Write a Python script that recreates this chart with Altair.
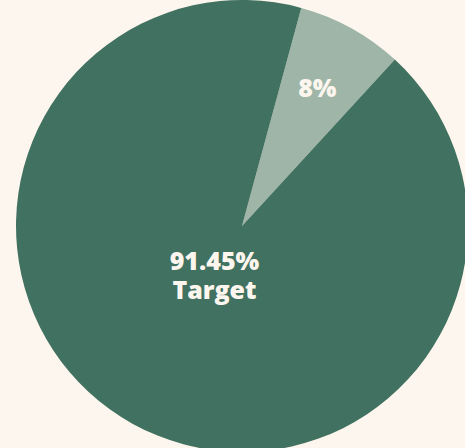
import math
import altair as alt
import pandas as pd

# data
categories = ["Other", "Target"]
shares = [7.6, 92.4]          # slice sizes
labels = ["8%", "91.45%\nTarget"]
order = [0, 1]
colors = ["#9EB5A8", "#417160"]

df = pd.DataFrame({"cat": categories, "value": shares, "label": labels, "ord": order})

start = 15.2 * math.pi / 180
theta_scale = alt.Scale(domain=[0, 100], range=[start, start + 2 * math.pi])
CX, CY, R = 242, 226, 226

base = alt.Chart(df).transform_stack(
    stack="value", groupby=[], as_=["v0", "v1"], sort=[alt.SortField("ord", order="ascending")]
).transform_calculate(mid="(datum.v0 + datum.v1) / 2")

arcs = base.mark_arc(radius=R, stroke=None).encode(
    theta=alt.Theta("v0:Q", scale=theta_scale, stack=None),
    theta2="v1:Q",
    color=alt.Color("cat:N", scale=alt.Scale(domain=categories, range=colors), legend=None),
    x=alt.value(CX),
    y=alt.value(CY),
)

text_style = dict(font="Open Sans", fontWeight=800, fontSize=25, color="#FDF6EE",
                  lineBreak="\n", lineHeight=29, align="center", baseline="middle")

small = base.transform_filter(alt.datum.cat == "Other").mark_text(radius=156, **text_style).encode(
    theta=alt.Theta("mid:Q", scale=theta_scale, stack=None),
    text="label:N",
    x=alt.value(CX),
    y=alt.value(CY),
)

big = base.transform_filter(alt.datum.cat == "Target").mark_text(radius=57, dy=-14, **text_style).encode(
    theta=alt.Theta("mid:Q", scale=theta_scale, stack=None),
    text="label:N",
    x=alt.value(CX),
    y=alt.value(CY),
)

chart = alt.layer(arcs, small, big).resolve_scale(theta="shared").properties(
    width=465, height=448, padding=0, autosize="none", background="#FDF6EE"
).configure_view(stroke=None)

chart.save("out.html", embed_options={"renderer": "svg", "actions": False})
